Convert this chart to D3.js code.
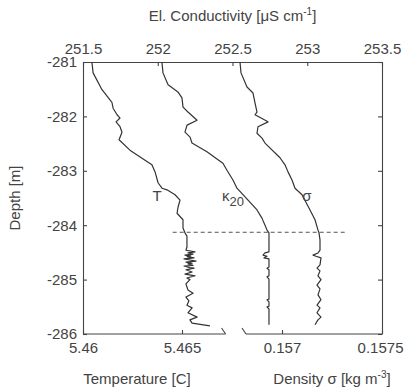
<!DOCTYPE html>
<html>
<head>
<meta charset="utf-8">
<script src="https://cdn.jsdelivr.net/npm/d3@7"></script>
<style>
  body { margin: 0; background: #fff; }
  svg text { font-family: "Liberation Sans", Arial, sans-serif; fill: #444; }
  .axis text { font-size: 15px; fill: #444; }
  .axis path, .axis line { stroke: #444; stroke-width: 1.1; }
</style>
</head>
<body>
<div id="chart"></div>
<script>
// depth axis (m) and axis ticks
const depthTicks = [-281, -282, -283, -284, -285, -286];
const condTicks = [251.5, 252, 252.5, 253, 253.5];
const tempTicks = [5.46, 5.465];
const densTicks = [0.157, 0.1575];

// broken bottom axis: temperature part ends, density part starts
const tempAxisEnd = 5.4672;
const densAxisStart = 0.15682;

// top of the mixed layer (dashed line) and its extent in conductivity units
const mixedTop = -284.13;
const mixedLineExtent = [252.1, 253.27];

// temperature profile [depth m, T C]
const tempProfile = [
  [-281.00, 5.46045], [-281.20, 5.46051], [-281.51, 5.46096], [-281.74, 5.46146],
  [-281.85, 5.46152], [-281.97, 5.46172], [-282.03, 5.46187], [-282.10, 5.46167],
  [-282.19, 5.46187], [-282.29, 5.46197], [-282.43, 5.46182], [-282.62, 5.46237],
  [-282.83, 5.46323], [-282.89, 5.46348], [-283.02, 5.46364], [-283.22, 5.46379],
  [-283.32, 5.46399], [-283.35, 5.46424], [-283.44, 5.46465], [-283.54, 5.46490],
  [-283.67, 5.46480], [-283.78, 5.46475], [-283.90, 5.46505], [-284.05, 5.46505],
  [-284.14, 5.46515], [-284.20, 5.46525], [-284.40, 5.46525], [-284.46, 5.46520],
  [-284.49, 5.46566], [-284.51, 5.46530], [-284.53, 5.46556], [-284.55, 5.46515],
  [-284.57, 5.46545], [-284.58, 5.46525], [-284.60, 5.46561], [-284.62, 5.46510],
  [-284.64, 5.46540], [-284.66, 5.46571], [-284.68, 5.46520], [-284.70, 5.46551],
  [-284.71, 5.46530], [-284.74, 5.46556], [-284.75, 5.46510], [-284.78, 5.46540],
  [-284.79, 5.46561], [-284.82, 5.46520], [-284.86, 5.46551], [-284.90, 5.46515],
  [-284.93, 5.46566], [-284.97, 5.46525], [-285.00, 5.46540], [-285.08, 5.46520],
  [-285.19, 5.46530], [-285.25, 5.46556], [-285.32, 5.46520], [-285.39, 5.46535],
  [-285.47, 5.46525], [-285.52, 5.46551], [-285.61, 5.46530], [-285.69, 5.46576],
  [-285.74, 5.46540], [-285.80, 5.46551], [-285.85, 5.46641]
];

// conductivity (kappa 20) profile [depth m, uS/cm]
const condProfile = [
  [-281.00, 252.028], [-281.20, 252.035], [-281.42, 252.069], [-281.55, 252.135],
  [-281.66, 252.162], [-281.83, 252.169], [-281.92, 252.202], [-282.07, 252.263],
  [-282.16, 252.196], [-282.29, 252.182], [-282.38, 252.216], [-282.49, 252.229],
  [-282.65, 252.329], [-282.86, 252.436], [-282.99, 252.463], [-283.17, 252.503],
  [-283.32, 252.530], [-283.54, 252.604], [-283.72, 252.664], [-283.87, 252.697],
  [-284.09, 252.731], [-284.14, 252.744], [-284.49, 252.744], [-284.51, 252.717],
  [-284.55, 252.704], [-284.57, 252.731], [-284.60, 252.711], [-284.62, 252.744],
  [-284.77, 252.744], [-284.79, 252.731], [-284.82, 252.744], [-284.93, 252.744],
  [-284.95, 252.731], [-284.99, 252.744], [-285.36, 252.744], [-285.37, 252.731],
  [-285.41, 252.744], [-285.49, 252.744], [-285.50, 252.731], [-285.54, 252.744],
  [-285.83, 252.744]
];

// density sigma profile [depth m, kg/m3]
const densProfile = [
  [-281.00, 0.156790], [-281.20, 0.156795], [-281.46, 0.156825], [-281.57, 0.156855],
  [-281.75, 0.156865], [-281.92, 0.156875], [-281.97, 0.156865], [-282.10, 0.156930],
  [-282.19, 0.156880], [-282.31, 0.156875], [-282.40, 0.156900], [-282.49, 0.156915],
  [-282.76, 0.156990], [-282.89, 0.157015], [-283.02, 0.157030], [-283.17, 0.157050],
  [-283.32, 0.157065], [-283.44, 0.157100], [-283.72, 0.157140], [-283.90, 0.157165],
  [-284.09, 0.157180], [-284.14, 0.157185], [-284.27, 0.157190], [-284.46, 0.157190],
  [-284.51, 0.157180], [-284.55, 0.157155], [-284.57, 0.157170], [-284.60, 0.157195],
  [-284.73, 0.157190], [-284.79, 0.157175], [-284.84, 0.157190], [-284.93, 0.157180],
  [-285.00, 0.157195], [-285.10, 0.157175], [-285.17, 0.157190], [-285.28, 0.157180],
  [-285.37, 0.157195], [-285.47, 0.157175], [-285.52, 0.157190], [-285.61, 0.157175],
  [-285.69, 0.157195], [-285.74, 0.157180], [-285.83, 0.157165]
];

// label anchors [value, depth]
const tempLabel = [5.46374, -283.55];
const condLabel = [252.43, -283.55];
const densLabel = [0.157125, -283.55];

const width = 405, height = 391;
const plot = { left: 83, right: 382, top: 62, bottom: 334 };

const svg = d3.select("#chart").append("svg")
  .attr("width", width)
  .attr("height", height);

const y = d3.scaleLinear().domain([-281, -286]).range([plot.top, plot.bottom]);
const xCond = d3.scaleLinear().domain([251.5, 253.5]).range([plot.left, plot.right]);
const xTemp = d3.scaleLinear().domain([5.46, 5.465]).range([plot.left, 182]);
const xDens = d3.scaleLinear().domain([0.157, 0.1575]).range([282, plot.right]);

// left depth axis (plain hyphen minus like the original)
svg.append("g")
  .attr("class", "axis")
  .attr("transform", `translate(${plot.left},0)`)
  .call(d3.axisLeft(y).tickValues(depthTicks).tickSizeInner(-4).tickSizeOuter(0).tickPadding(6)
    .tickFormat(d => String(d)));

// right axis, ticks only
svg.append("g")
  .attr("class", "axis")
  .attr("transform", `translate(${plot.right},0)`)
  .call(d3.axisRight(y).tickValues(depthTicks).tickSizeInner(-4).tickSizeOuter(0).tickFormat(""));

// top conductivity axis
svg.append("g")
  .attr("class", "axis")
  .attr("transform", `translate(0,${plot.top})`)
  .call(d3.axisTop(xCond).tickValues(condTicks).tickSizeInner(-4).tickSizeOuter(0).tickPadding(8)
    .tickFormat(d => d));

// bottom temperature axis (broken)
const gTemp = svg.append("g")
  .attr("class", "axis")
  .attr("transform", `translate(0,${plot.bottom})`)
  .call(d3.axisBottom(xTemp).tickValues(tempTicks).tickSizeInner(-4).tickSizeOuter(0).tickPadding(8)
    .tickFormat(d => d));
gTemp.select(".domain").remove();

const gDens = svg.append("g")
  .attr("class", "axis")
  .attr("transform", `translate(0,${plot.bottom})`)
  .call(d3.axisBottom(xDens).tickValues(densTicks).tickSizeInner(-4).tickSizeOuter(0).tickPadding(8)
    .tickFormat(d => d));
gDens.select(".domain").remove();
// keep the last label inside the window
gDens.selectAll(".tick text").filter(d => d === 0.1575)
  .attr("text-anchor", "end")
  .attr("x", width - 2 - plot.right);

const axisColor = "#444";
svg.append("line")
  .attr("x1", xTemp(5.46)).attr("x2", xTemp(tempAxisEnd))
  .attr("y1", plot.bottom).attr("y2", plot.bottom)
  .attr("stroke", axisColor).attr("stroke-width", 1.1);
svg.append("line")
  .attr("x1", xDens(densAxisStart)).attr("x2", xDens(0.1575))
  .attr("y1", plot.bottom).attr("y2", plot.bottom)
  .attr("stroke", axisColor).attr("stroke-width", 1.1);

// break marks
[xTemp(tempAxisEnd), xDens(densAxisStart)].forEach(bx => {
  svg.append("line")
    .attr("x1", bx - 4).attr("y1", plot.bottom - 6)
    .attr("x2", bx).attr("y2", plot.bottom)
    .attr("stroke", axisColor).attr("stroke-width", 1.1);
});

// dashed mixed-layer line
svg.append("line")
  .attr("x1", xCond(mixedLineExtent[0])).attr("x2", xCond(mixedLineExtent[1]))
  .attr("y1", y(mixedTop)).attr("y2", y(mixedTop))
  .attr("stroke", "#555").attr("stroke-width", 1)
  .attr("stroke-dasharray", "4,3");

// profiles
const lineColor = "#333";
const drawProfile = (data, xs) => {
  svg.append("path")
    .datum(data)
    .attr("fill", "none")
    .attr("stroke", lineColor)
    .attr("stroke-width", 1.2)
    .attr("stroke-linejoin", "round")
    .attr("d", d3.line().x(d => xs(d[1])).y(d => y(d[0])));
};
drawProfile(tempProfile, xTemp);
drawProfile(condProfile, xCond);
drawProfile(densProfile, xDens);

// curve labels
svg.append("text")
  .attr("x", xTemp(tempLabel[0])).attr("y", y(tempLabel[1]))
  .attr("text-anchor", "middle").style("font-size", "15px")
  .text("T");

const kappa = svg.append("text")
  .attr("x", xCond(condLabel[0])).attr("y", y(condLabel[1]))
  .style("font-size", "15px")
  .text("κ");
kappa.append("tspan").attr("dy", 5).style("font-size", "13px").text("20");

svg.append("text")
  .attr("x", xDens(densLabel[0])).attr("y", y(densLabel[1]))
  .attr("text-anchor", "middle").style("font-size", "15px")
  .text("σ");

// axis titles
const title = svg.append("text")
  .attr("x", xCond(252.5)).attr("y", 21)
  .attr("text-anchor", "middle").style("font-size", "15px")
  .text("El. Conductivity [μS cm");
title.append("tspan").attr("dy", -6).style("font-size", "10px").text("-1");
title.append("tspan").attr("dy", 6).text("]");

svg.append("text")
  .attr("transform", `translate(20,${(plot.top + plot.bottom) / 2}) rotate(-90)`)
  .attr("text-anchor", "middle").style("font-size", "15px")
  .text("Depth  [m]");

svg.append("text")
  .attr("x", 137).attr("y", 384)
  .attr("text-anchor", "middle").style("font-size", "15px")
  .text("Temperature [C]");

const densTitle = svg.append("text")
  .attr("x", 332).attr("y", 384)
  .attr("text-anchor", "middle").style("font-size", "15px")
  .text("Density σ [kg m");
densTitle.append("tspan").attr("dy", -6).style("font-size", "10px").text("-3");
densTitle.append("tspan").attr("dy", 6).text("]");
</script>
</body>
</html>
